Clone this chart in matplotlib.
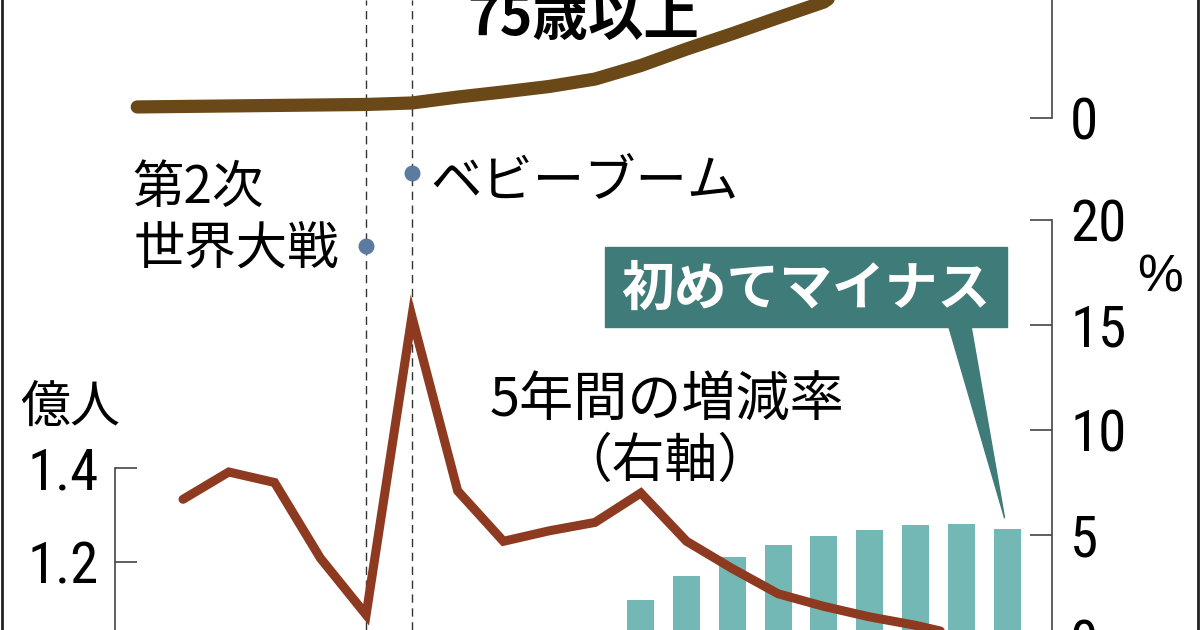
import matplotlib
matplotlib.use("Agg")
import matplotlib.pyplot as plt
from matplotlib.patches import Rectangle
from matplotlib.lines import Line2D

plt.rcParams['font.family'] = ['Noto Sans CJK JP', 'DejaVu Sans']
NUM_FONT = ['Roboto Condensed', 'DejaVu Sans']

# --- data ---
# 5-year population change rate (%), right axis
years_rate = [1925, 1930, 1935, 1940, 1945, 1950, 1955, 1960, 1965, 1970,
              1975, 1980, 1985, 1990, 1995, 2000, 2005, 2010, 2015]
rate_5y = [6.7, 8.0, 7.5, 3.9, 1.2, 15.4, 7.1, 4.7, 5.2, 5.6,
           7.0, 4.7, 3.4, 2.2, 1.6, 1.1, 0.7, 0.2, -0.8]

# total population (100 million), left axis - bars
years_pop = [1975, 1980, 1985, 1990, 1995, 2000, 2005, 2010, 2015]
population = [1.119, 1.171, 1.210, 1.236, 1.256, 1.269, 1.278, 1.281, 1.271]

# population aged 75+ (10 thousand), upper panel
years_75 = [1920, 1925, 1930, 1935, 1940, 1945, 1950, 1955, 1960, 1965,
            1970, 1975, 1980, 1985, 1990, 1995, 2000, 2005, 2010, 2015]
pop_75 = [67, 70, 73, 76, 79, 82, 91, 127, 158, 191,
          236, 318, 418, 511, 608, 703, 900, 1160, 1420, 1630]

pop_ticks = [1.0, 1.2, 1.4]
pop_labels = ["1.0", "1.2", "1.4"]
rate_ticks = [0, 5, 10, 15, 20]
upper_ticks = [0]

event_years = [1945, 1950]

# colours
RATE_C = "#8e3a20"
OLD_C = "#6b4818"
BAR_C = "#74b8b6"
CALLOUT_C = "#3f7b78"
DOT_C = "#5b7ba0"
AX_C = "#444444"

# --- layout (pixels of the 1200x630 canvas) ---
W, H = 1200, 630
L_PX, R_PX = 115, 1052
PX_PER_YEAR = 9.156
YEAR_REF, XPX_REF = 1925, 183


def fx(px):
    return px / W


def fy(py):
    return 1 - py / H


def rect(top_px, bot_px):
    return [fx(L_PX), fy(bot_px), (R_PX - L_PX) / W, (bot_px - top_px) / H]


def lims(top_px, bot_px, v_ref, px_ref, px_per_unit):
    return (v_ref - (bot_px - px_ref) / px_per_unit,
            v_ref + (px_ref - top_px) / px_per_unit)


xlim = (YEAR_REF + (L_PX - XPX_REF) / PX_PER_YEAR,
        YEAR_REF + (R_PX - XPX_REF) / PX_PER_YEAR)

fig = plt.figure(figsize=(12, 6.3), dpi=100)

# background axes: event guide lines and dots
ax_bg = fig.add_axes([fx(L_PX), 0, (R_PX - L_PX) / W, 1])
ax_bg.set_xlim(xlim)
ax_bg.set_ylim(H, 0)
ax_bg.axis("off")
for yr in event_years:
    ax_bg.axvline(yr, color="#333333", lw=1, dashes=(6, 4))
ax_bg.plot([event_years[0]], [246], "o", ms=10.5, color=DOT_C)
ax_bg.plot([event_years[1]], [173], "o", ms=10.5, color=DOT_C)

# upper panel: 75+ population
ax_up = fig.add_axes(rect(-60, 140))
ax_up.set_facecolor("none")
ax_up.set_xlim(xlim)
ax_up.set_ylim(lims(-60, 140, 0, 118, 0.165))
ax_up.plot(years_75, pop_75, color=OLD_C, lw=9.5, solid_capstyle="round",
           solid_joinstyle="round")
for s in ["left", "top", "bottom"]:
    ax_up.spines[s].set_visible(False)
ax_up.spines["right"].set_bounds(0, ax_up.get_ylim()[1])
ax_up.spines["right"].set_color(AX_C)
ax_up.spines["right"].set_linewidth(1.2)
ax_up.yaxis.tick_right()
ax_up.set_yticks(upper_ticks, labels=[str(t) for t in upper_ticks],
                 fontfamily=NUM_FONT, fontsize=41)
ax_up.tick_params(axis="y", direction="in", length=16, width=1.2,
                  color=AX_C, pad=13)
ax_up.set_xticks([])

# lower panel: population bars (left) and change rate (right)
ax_pop = fig.add_axes(rect(220, 700))
ax_pop.set_facecolor("none")
ax_pop.set_xlim(xlim)
ax_pop.set_ylim(lims(220, 700, 1.4, 468, 470))
ax_pop.bar(years_pop, population, width=2.95, color=BAR_C)
for s in ["right", "top", "bottom"]:
    ax_pop.spines[s].set_visible(False)
ax_pop.spines["left"].set_bounds(ax_pop.get_ylim()[0], 1.4)
ax_pop.spines["left"].set_color(AX_C)
ax_pop.spines["left"].set_linewidth(1.2)
ax_pop.set_yticks(pop_ticks, labels=pop_labels, fontfamily=NUM_FONT, fontsize=41)
ax_pop.tick_params(axis="y", direction="in", length=16, width=1.2,
                   color=AX_C, pad=12)
ax_pop.set_xticks([])

ax_rate = ax_pop.twinx()
ax_rate.set_xlim(xlim)
ax_rate.set_ylim(lims(220, 700, 20, 220, 21))
ax_rate.plot(years_rate, rate_5y, color=RATE_C, lw=6.5, solid_capstyle="round",
             solid_joinstyle="miter")
for s in ["left", "top", "bottom"]:
    ax_rate.spines[s].set_visible(False)
ax_rate.spines["right"].set_bounds(ax_rate.get_ylim()[0], 20)
ax_rate.spines["right"].set_color(AX_C)
ax_rate.spines["right"].set_linewidth(1.2)
ax_rate.set_yticks(rate_ticks, labels=[str(t) for t in rate_ticks],
                   fontfamily=NUM_FONT, fontsize=41)
ax_rate.tick_params(axis="y", direction="in", length=16, width=1.2,
                    color=AX_C, pad=13)
ax_rate.set_xticks([])

# callout pointing to the 2015 bar
ax_pop.annotate("", xy=(years_pop[-1], population[-1]), xycoords="data",
                xytext=(959, H - 322), textcoords="figure pixels",
                arrowprops=dict(arrowstyle="wedge,tail_width=1.6,shrink_factor=0.5",
                                color=CALLOUT_C, shrinkA=0, shrinkB=8,
                                mutation_scale=10))
fig.add_artist(Rectangle((fx(605), fy(327)), 402 / W, 80 / H,
                         transform=fig.transFigure, color=CALLOUT_C, zorder=5))
fig.text(fx(806), fy(305), "初めてマイナス", color="white", fontsize=38,
         fontweight="bold", ha="center", va="baseline", zorder=6)

# labels
fig.text(fx(467), fy(35), "75歳以上", fontsize=40, fontweight="bold",
         ha="left", va="baseline")
fig.text(fx(132), fy(203), "第2次", fontsize=37, ha="left", va="baseline")
fig.text(fx(134), fy(264), "世界大戦", fontsize=37, ha="left", va="baseline")
fig.text(fx(430), fy(196), "ベビーブーム", fontsize=37, ha="left", va="baseline")
fig.text(fx(667), fy(416), "5年間の増減率", fontsize=39, ha="center", va="baseline")
fig.text(fx(665), fy(477), "（右軸）", fontsize=38, ha="center", va="baseline")
fig.text(fx(20), fy(422), "億人", fontsize=36, ha="left", va="baseline")
fig.text(fx(1137), fy(292), "%", fontsize=37,
         fontfamily=['Liberation Sans', 'DejaVu Sans'], ha="left", va="baseline")

# frame edges
for xp in [1.5, 1197.5]:
    fig.add_artist(Line2D([fx(xp), fx(xp)], [0, 1], transform=fig.transFigure,
                          color="#222222", lw=2))

fig.savefig("out.png", dpi=100)
